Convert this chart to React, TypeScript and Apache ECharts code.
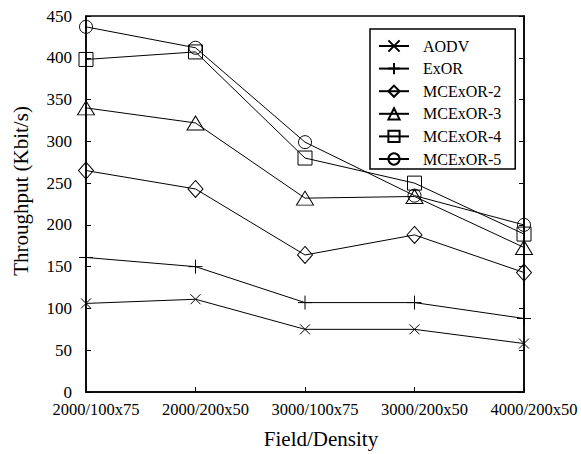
import React, { useEffect, useRef } from "react";
import * as echarts from "echarts";

const categories = ["2000/100x75", "2000/200x50", "3000/100x75", "3000/200x50", "4000/200x50"];
const aodv = [106, 111, 75, 75, 58];
const exor = [161, 150, 107, 107, 88];
const mcexor2 = [265, 243, 164, 188, 143];
const mcexor3 = [340, 322, 232, 234, 173];
const mcexor4 = [398, 407, 280, 250, 189];
const mcexor5 = [437, 412, 299, 235, 200];
const yTicks = { min: 0, max: 450, interval: 50 };

const FONT = "Liberation Serif";

const crossPath = "path://M0 0 L10 10 M10 0 L0 10";
const plusPath = "path://M5 0 L5 10 M0 5 L10 5";

export default function App() {
  const ref = useRef<HTMLDivElement>(null);
  useEffect(() => {
    if (!ref.current) return;
    const chart = echarts.init(ref.current, undefined, { renderer: "svg" });
    const mk = (name: string, data: number[], symbol: string, size: any) => ({
      name,
      type: "line",
      data,
      symbol,
      symbolSize: size,
      showAllSymbol: true,
      lineStyle: { color: "#000", width: 1 },
      itemStyle: { color: "rgba(255,255,255,0)", borderColor: "#000", borderWidth: 1 },
      emphasis: { disabled: true },
    });
    chart.setOption({
      animation: false,
      backgroundColor: "#fff",
      textStyle: { fontFamily: FONT, color: "#000" },
      grid: { left: 86, right: 57, top: 16, bottom: 58, show: true, borderColor: "#000", borderWidth: 1.5 },
      legend: {
        orient: "vertical",
        left: 370,
        top: 29,
        padding: [9, 14, 2, 8],
        itemWidth: 30,
        itemHeight: 14,
        itemGap: 6.6,
        borderColor: "#000",
        borderWidth: 1.5,
        backgroundColor: "#fff",
        textStyle: { fontFamily: FONT, fontSize: 16, lineHeight: 14, color: "#000", padding: [0, 0, 0, 9] },
        data: ["AODV", "ExOR", "MCExOR-2", "MCExOR-3", "MCExOR-4", "MCExOR-5"],
      },
      xAxis: [
        {
          type: "category",
          data: categories,
          boundaryGap: false,
          name: "Field/Density",
          nameLocation: "middle",
          nameGap: 36,
          nameTextStyle: { fontFamily: FONT, fontSize: 21, color: "#000", padding: [0, 0, 0, 32] },
          axisLine: { lineStyle: { color: "#000", width: 1.5 } },
          axisTick: { inside: true, length: 5, interval: 0, lineStyle: { color: "#000" } },
          axisLabel: { interval: 0, hideOverlap: false, fontFamily: FONT, fontSize: 16.5, color: "#000", margin: 9, padding: [0, 0, 0, 20] },
          splitLine: { show: false },
        },
      ],
      yAxis: [
        {
          type: "value",
          min: yTicks.min,
          max: yTicks.max,
          interval: yTicks.interval,
          name: "Throughput (Kbit/s)",
          nameLocation: "middle",
          nameGap: 55,
          nameTextStyle: { fontFamily: FONT, fontSize: 21, color: "#000", padding: [0, 0, 0, 26] },
          axisLine: { show: true, lineStyle: { color: "#000", width: 1.5 } },
          axisTick: { show: true, inside: true, length: 5, lineStyle: { color: "#000" } },
          axisLabel: { fontFamily: FONT, fontSize: 17, color: "#000", margin: 14 },
          splitLine: { show: false },
        },
        {
          type: "value",
          position: "right",
          min: yTicks.min,
          max: yTicks.max,
          interval: yTicks.interval,
          axisLine: { show: true, lineStyle: { color: "#000", width: 1.5 } },
          axisTick: { show: true, inside: true, length: 5, lineStyle: { color: "#000" } },
          axisLabel: { show: false },
          splitLine: { show: false },
        },
      ],
      series: [
        mk("AODV", aodv, crossPath, 10),
        mk("ExOR", exor, plusPath, 14),
        mk("MCExOR-2", mcexor2, "diamond", [15, 17]),
        mk("MCExOR-3", mcexor3, "triangle", [17, 14]),
        mk("MCExOR-4", mcexor4, "rect", 14),
        mk("MCExOR-5", mcexor5, "circle", 13),
      ],
    });
    return () => chart.dispose();
  }, []);
  return <div ref={ref} style={{ position: "absolute", left: 0, top: 0, width: 581, height: 454 }} />;
}
